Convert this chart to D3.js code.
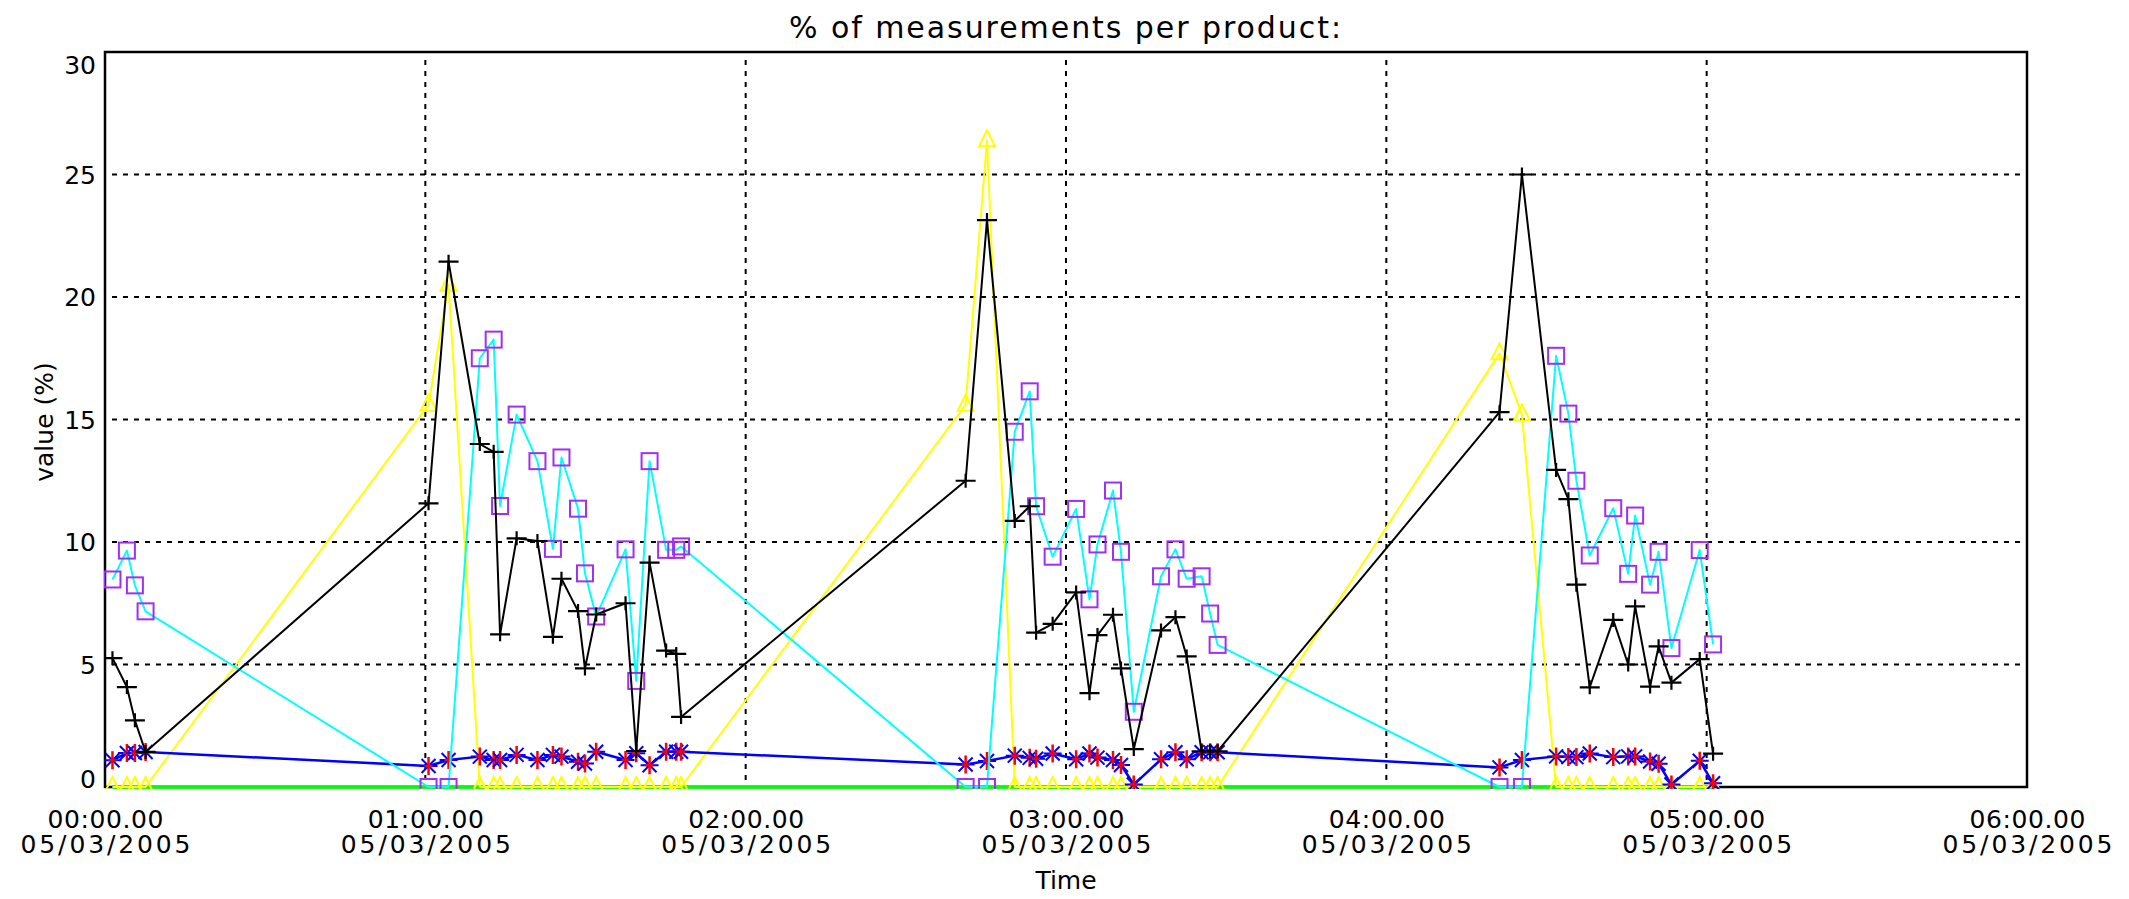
<!DOCTYPE html>
<html><head><meta charset="utf-8">
<script src="https://cdn.jsdelivr.net/npm/d3@7"></script>
<style>body{margin:0;background:#fff}svg{display:block}</style>
</head><body>
<svg id="c" width="2129" height="899"></svg>
<script>
// minutes since 05/03/2005 00:00
const times = [
  1.4, 4.1, 5.6, 7.6,
  60.6, 64.35, 70.2, 72.8, 74.0, 77.1, 81.0, 83.9, 85.5, 88.6, 89.9, 92.0, 97.5, 99.5, 102.0, 105.1, 107.0, 107.9,
  161.2, 165.2, 170.4, 173.2, 174.4, 177.5, 181.9, 184.4, 185.9, 188.8, 190.3, 192.7, 197.8, 200.5, 202.6, 205.4, 207.0, 208.4,
  261.2, 265.4, 271.8, 274.1, 275.6, 278.1, 282.5, 285.3, 286.6, 289.4, 291.0, 293.4, 298.7, 301.2
];
// black, "+" markers
const productBlack = [
  5.26, 4.08, 2.72, 1.43,
  11.58, 21.44, 14.0, 13.68, 6.23, 10.15, 10.04, 6.13, 8.5, 7.18, 4.84, 7.04, 7.5, 1.47, 9.16, 5.57, 5.43, 2.86,
  12.5, 23.14, 10.86, 11.46, 6.3, 6.66, 7.94, 3.83, 6.2, 7.03, 4.84, 1.55, 6.39, 6.93, 5.33, 1.46, 1.46, 1.46,
  15.3, 25.0, 12.94, 11.75, 8.26, 4.07, 6.82, 5.0, 7.37, 4.1, 5.74, 4.26, 5.22, 1.36
];
// cyan, square markers
const productCyan = [
  8.47, 9.65, 8.23, 7.17,
  0, 0, 17.5, 18.26, 11.47, 15.2, 13.3, 9.72, 13.45, 11.36, 8.72, 6.96, 9.7, 4.33, 13.3, 9.68, 9.68, 9.82,
  0, 0, 14.5, 16.15, 11.46, 9.4, 11.35, 7.66, 9.9, 12.1, 9.6, 3.07, 8.6, 9.7, 8.5, 8.6, 7.08, 5.8,
  0, 0, 17.6, 15.24, 12.5, 9.45, 11.38, 8.7, 11.08, 8.26, 9.6, 5.67, 9.67, 5.82
];
// yellow, triangle markers
const productYellow = [
  0, 0, 0, 0,
  15.6, 20.5, 0, 0, 0, 0, 0, 0, 0, 0, 0, 0, 0, 0, 0, 0, 0, 0,
  15.6, 26.4, 0, 0, 0, 0, 0, 0, 0, 0, 0, 0, 0, 0, 0, 0, 0, 0,
  17.7, 15.2, 0, 0, 0, 0, 0, 0, 0, 0, 0, 0, 0, 0
];
// blue, asterisk markers
const productBlue = [
  1.09, 1.39, 1.39, 1.43,
  0.86, 1.1, 1.24, 1.1, 1.1, 1.31, 1.1, 1.31, 1.24, 1.03, 0.96, 1.44, 1.1, 1.38, 0.89, 1.44, 1.44, 1.44,
  0.92, 1.06, 1.28, 1.19, 1.15, 1.37, 1.13, 1.37, 1.2, 1.1, 0.9, 0.1, 1.13, 1.42, 1.13, 1.42, 1.42, 1.42,
  0.8, 1.1, 1.25, 1.22, 1.22, 1.37, 1.22, 1.25, 1.25, 1.04, 0.95, 0.1, 1.07, 0.15
];
// green, no markers
const productGreen = [
  0, 0, 0, 0,
  0, 0, 0, 0, 0, 0, 0, 0, 0, 0, 0, 0, 0, 0, 0, 0, 0, 0,
  0, 0, 0, 0, 0, 0, 0, 0, 0, 0, 0, 0, 0, 0, 0, 0, 0, 0,
  0, 0, 0, 0, 0, 0, 0, 0, 0, 0, 0, 0, 0, 0
];
const yTickValues = [0, 5, 10, 15, 20, 25, 30];
const xTickHours = [0, 1, 2, 3, 4, 5, 6];
const titleText = "% of measurements per product:";
const yLabelText = "value (%)";
const xLabelText = "Time";

const FONT = "'DejaVu Sans', sans-serif";
const svg = d3.select("#c");
const L = 105, R = 2027, T = 52, B = 787;
const t0 = Date.UTC(2005, 2, 5, 0, 0, 0);
const toDate = m => new Date(t0 + m * 60000);
const h2m = h => h * 60;
const x = d3.scaleUtc().domain([toDate(0), toDate(360)]).range([L, R]);
const y = d3.scaleLinear().domain([0, 30]).range([B, T]);

svg.append("rect").attr("width", 2129).attr("height", 899).attr("fill", "#fff");

// grid
const grid = svg.append("g").attr("stroke", "#000").attr("stroke-width", 2).attr("stroke-dasharray", "5,6");
grid.selectAll("line.h").data(yTickValues.filter(v => v > 0 && v < 30)).join("line")
  .attr("x1", L + 7).attr("x2", R).attr("y1", d => y(d)).attr("y2", d => y(d));
grid.selectAll("line.v").data(xTickHours.filter(h => h > 0 && h < 6)).join("line")
  .attr("y1", T + 8).attr("y2", B).attr("x1", d => x(toDate(h2m(d)))).attr("x2", d => x(toDate(h2m(d))));

// frame
svg.append("rect").attr("x", L).attr("y", T).attr("width", R - L).attr("height", B - T)
  .attr("fill", "none").attr("stroke", "#000").attr("stroke-width", 2.5);

// clip
svg.append("clipPath").attr("id", "clip").append("rect")
  .attr("x", L - 1).attr("y", T - 1).attr("width", R - L + 2).attr("height", B - T + 3);
const plot = svg.append("g").attr("clip-path", "url(#clip)");

const mk = vals => times.map((t, i) => ({ t: toDate(t), v: vals[i] }));
const line = d3.line().x(d => x(d.t)).y(d => y(d.v));

function drawSeries(vals, color, width) {
  plot.append("path").datum(mk(vals)).attr("d", line)
    .attr("fill", "none").attr("stroke", color).attr("stroke-width", width).attr("stroke-linejoin", "round");
}

// green
drawSeries(productGreen, "#00ff00", 3.5);

// yellow
drawSeries(productYellow, "#ffff00", 2);
plot.append("g").selectAll("path").data(mk(productYellow)).join("path")
  .attr("transform", d => `translate(${x(d.t)},${y(d.v)})`)
  .attr("d", "M0,-10L8,6H-8Z").attr("fill", "none").attr("stroke", "#ffff00").attr("stroke-width", 2);

// blue
drawSeries(productBlue, "#0000ff", 2.5);
const ast = plot.append("g").selectAll("g").data(mk(productBlue)).join("g")
  .attr("transform", d => `translate(${x(d.t)},${y(d.v)})`);
ast.append("path").attr("d", "M-7,-7L7,7M-7,7L7,-7M-9,0H9").attr("stroke", "#0000ff").attr("stroke-width", 2);
ast.append("path").attr("d", "M0,-9V9M-4,0H4").attr("stroke", "#ff0000").attr("stroke-width", 2.5);

// cyan
drawSeries(productCyan, "#00ffff", 2);
plot.append("g").selectAll("rect").data(mk(productCyan)).join("rect")
  .attr("x", d => x(d.t) - 8).attr("y", d => y(d.v) - 8).attr("width", 16).attr("height", 16)
  .attr("fill", "none").attr("stroke", "#a030f0").attr("stroke-width", 2);

// black
drawSeries(productBlack, "#000000", 2);
plot.append("g").selectAll("path").data(mk(productBlack)).join("path")
  .attr("transform", d => `translate(${x(d.t)},${y(d.v)})`)
  .attr("d", "M-10,0H10M0,-7V7").attr("stroke", "#000").attr("stroke-width", 2.2);

// y axis labels
const ya = svg.append("g").attr("transform", `translate(${L},0)`)
  .call(d3.axisLeft(y).tickValues(yTickValues).tickSize(0).tickPadding(9).tickFormat(d3.format("d")));
ya.select(".domain").remove();
ya.selectAll(".tick").attr("transform", d => `translate(0,${Math.max(T + 13, Math.min(B - 8, y(d)))})`);
ya.selectAll("text").attr("font-family", FONT).attr("font-size", 25).attr("fill", "#000").attr("dy", "0.36em");

// x axis labels
const xa = svg.append("g").attr("transform", `translate(0,${B})`)
  .call(d3.axisBottom(x).tickValues(xTickHours.map(h => toDate(h2m(h)))).tickSize(0).tickFormat(""));
xa.select(".domain").remove();
xa.selectAll(".tick").each(function (d) {
  const g = d3.select(this);
  g.append("text").attr("y", 41).attr("text-anchor", "middle").attr("font-family", FONT).attr("font-size", 25)
    .attr("fill", "#000").attr("textLength", 116).attr("lengthAdjust", "spacing").text(d3.utcFormat("%H:%M.%S")(d));
  g.append("text").attr("y", 66).attr("text-anchor", "middle").attr("font-family", FONT).attr("font-size", 25)
    .attr("fill", "#000").attr("textLength", 170).attr("lengthAdjust", "spacing").text(d3.utcFormat("%d/%m/%Y")(d));
});

svg.append("text").attr("x", (L + R) / 2).attr("y", 889).attr("text-anchor", "middle")
  .attr("font-family", FONT).attr("font-size", 25).attr("fill", "#000").text(xLabelText);
svg.append("text").attr("transform", "translate(53,422) rotate(-90)").attr("text-anchor", "middle")
  .attr("font-family", FONT).attr("font-size", 25).attr("fill", "#000").text(yLabelText);
svg.append("text").attr("x", 1065).attr("y", 38).attr("text-anchor", "middle")
  .attr("font-family", FONT).attr("font-size", 30).attr("fill", "#000")
  .attr("textLength", 552).attr("lengthAdjust", "spacing").text(titleText);
</script>
</body></html>
